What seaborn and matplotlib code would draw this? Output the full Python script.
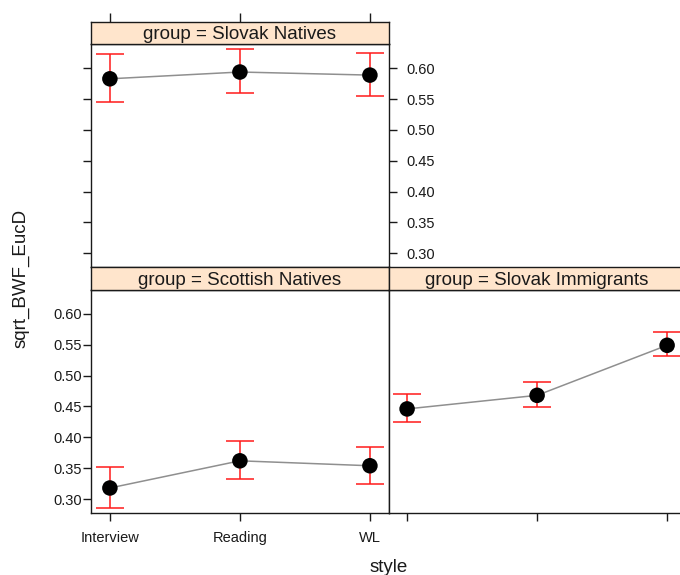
import matplotlib
matplotlib.use("Agg")
import matplotlib.pyplot as plt
import numpy as np
import pandas as pd
import seaborn as sns

# Cell means and interval limits of sqrt_BWF_EucD by speaking style and group
styles = ["Interview", "Reading", "WL"]
groups = ["Slovak Natives", "Scottish Natives", "Slovak Immigrants"]

mean_slovak_natives = [0.583, 0.594, 0.589]
lower_slovak_natives = [0.545, 0.560, 0.555]
upper_slovak_natives = [0.623, 0.631, 0.625]

mean_scottish_natives = [0.318, 0.362, 0.354]
lower_scottish_natives = [0.285, 0.333, 0.325]
upper_scottish_natives = [0.352, 0.394, 0.385]

mean_slovak_immigrants = [0.446, 0.468, 0.549]
lower_slovak_immigrants = [0.425, 0.449, 0.531]
upper_slovak_immigrants = [0.470, 0.489, 0.570]

y_ticks = [0.30, 0.35, 0.40, 0.45, 0.50, 0.55, 0.60]

frames = []
for g, m, lo, hi in zip(
    groups,
    [mean_slovak_natives, mean_scottish_natives, mean_slovak_immigrants],
    [lower_slovak_natives, lower_scottish_natives, lower_slovak_immigrants],
    [upper_slovak_natives, upper_scottish_natives, upper_slovak_immigrants],
):
    frames.append(pd.DataFrame({"group": g, "style": styles, "mean": m,
                                "lower": lo, "upper": hi}))
df = pd.concat(frames, ignore_index=True)

sns.set_theme(style="ticks")
plt.rcParams["font.family"] = ["Liberation Sans", "DejaVu Sans"]
plt.rcParams["axes.linewidth"] = 1.0
plt.rcParams["axes.edgecolor"] = "#1a1a1a"

W, H = 680, 575
fig = plt.figure(figsize=(W / 100, H / 100), dpi=100)


def rect(x0, y_top, x1, y_bot):
    return [x0 / W, 1 - y_bot / H, (x1 - x0) / W, (y_bot - y_top) / H]


XL, XM, XR = 91.3, 388.5, 685.7
panels = {
    "Slovak Natives": (rect(XL, 44.3, XM, 266.7), rect(XL, 21.7, XM, 44.3)),
    "Scottish Natives": (rect(XL, 289.7, XM, 512.7), rect(XL, 267.3, XM, 289.7)),
    "Slovak Immigrants": (rect(XM, 289.7, XR, 512.7), rect(XM, 267.3, XR, 289.7)),
}

XLIM = (-0.143, 2.143)
YLIM = (0.278, 0.639)
tick_kw = dict(direction="out", length=6, width=1.0, color="#1a1a1a",
               labelsize=10.5, labelcolor="#1a1a1a")

for g in groups:
    prect, srect = panels[g]
    ax = fig.add_axes(prect)
    sub = df[df["group"] == g]

    ax.errorbar(sub["style"], sub["mean"],
                yerr=[sub["mean"] - sub["lower"], sub["upper"] - sub["mean"]],
                fmt="none", ecolor="#ff1a1a", elinewidth=1.1, capsize=10,
                capthick=1.1, zorder=2)
    sns.lineplot(data=sub, x="style", y="mean", color="#8f8f8f", lw=1.1,
                 ax=ax, zorder=3, sort=False)
    sns.scatterplot(data=sub, x="style", y="mean", color="black", s=125,
                    edgecolor="none", ax=ax, zorder=4)

    ax.set_xlim(*XLIM)
    ax.set_ylim(*YLIM)
    ax.set_yticks(y_ticks)
    ax.set_yticklabels([f"{v:.2f}" for v in y_ticks])
    ax.set_xlabel("")
    ax.set_ylabel("")
    for s in ax.spines.values():
        s.set_visible(True)
    ax.tick_params(**tick_kw)

    if g == "Slovak Natives":
        ax.tick_params(axis="y", left=True, labelleft=False,
                       right=True, labelright=True, pad=7)
        ax.tick_params(axis="x", bottom=False, labelbottom=False)
    elif g == "Scottish Natives":
        ax.tick_params(axis="y", left=True, labelleft=True, right=False, pad=1)
        ax.tick_params(axis="x", bottom=True, labelbottom=True, pad=7.5)
    else:
        ax.tick_params(axis="y", left=False, labelleft=False, right=False)
        ax.tick_params(axis="x", bottom=True, labelbottom=False)

    # strip with the panel's group label
    sax = fig.add_axes(srect)
    sax.set_facecolor("#ffe5cc")
    sax.set_xlim(*XLIM)
    sax.set_ylim(0, 1)
    sax.set_yticks([])
    for s in sax.spines.values():
        s.set_visible(True)
        s.set_linewidth(1.0)
    if g == "Slovak Natives":
        sax.set_xticks(range(len(styles)))
        sax.tick_params(axis="x", top=True, bottom=False, labeltop=False,
                        labelbottom=False, direction="out", length=6.5,
                        width=1.0, color="#1a1a1a")
    else:
        sax.set_xticks([])
    sax.text(0.5, 0.42, f"group = {g}", transform=sax.transAxes,
             ha="center", va="center", fontsize=13.5, color="#1a1a1a")

fig.text(389 / W, 1 - 567 / H, "style", ha="center", va="center",
         fontsize=13.5, color="#1a1a1a")
fig.text(20.7 / W, 1 - 278 / H, "sqrt_BWF_EucD", ha="center", va="center",
         rotation=90, fontsize=13.5, color="#1a1a1a")

fig.savefig("out.png", dpi=100, facecolor="white")
